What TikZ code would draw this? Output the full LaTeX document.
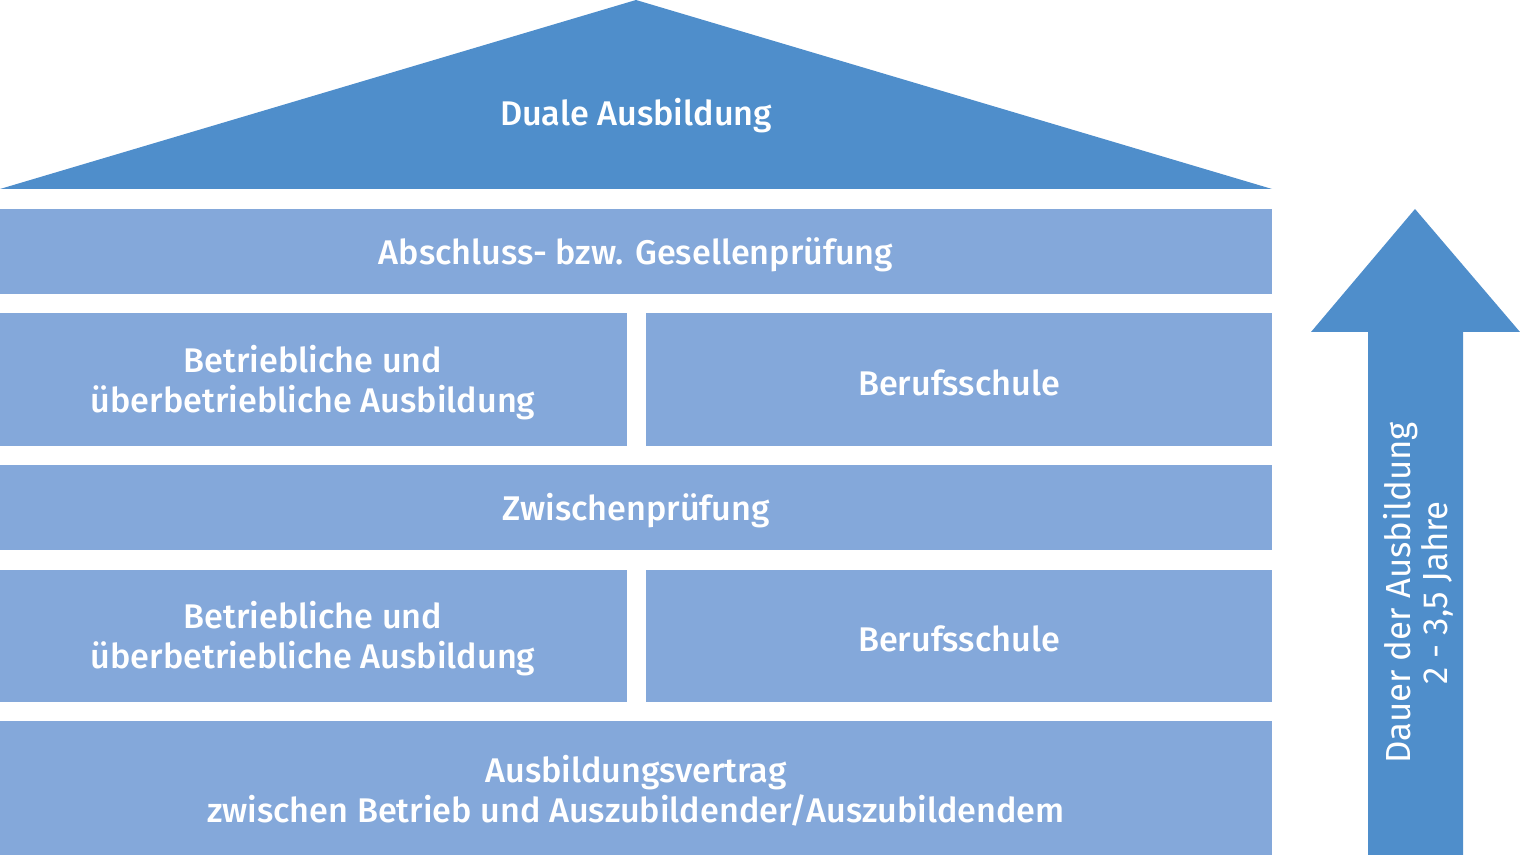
\documentclass[tikz,border=0pt]{standalone}
\usepackage{fontspec}
\setmainfont{Fira Sans}
\newfontfamily\medfont{Fira Sans Medium}
\definecolor{roofblue}{HTML}{4F8ECB}
\definecolor{boxblue}{HTML}{84A8DA}
\begin{document}
\begin{tikzpicture}[x=0.01cm,y=-0.01cm,
  blk/.style={fill=boxblue,draw=none},
  lbl/.style={text=white,font=\medfont\fontsize{9.73}{11.4}\selectfont,align=center},
  alb/.style={text=white,font=\fontsize{9.9}{10.6}\selectfont,align=center,rotate=90}]
\useasboundingbox (0,0) rectangle (1520,855);
\fill[roofblue] (0,189) -- (636,0) -- (1272,189) -- cycle;
\node[lbl] (roof) at (636,116) {Duale Ausbildung};
\fill[blk] (0,209) rectangle (1272,294);
\node[lbl] (r1) at (636,255) {Abschluss- bzw. Gesellenprüfung};
\fill[blk] (0,313) rectangle (627,446);
\node[lbl] (r2a) at (313,383) {Betriebliche und\\überbetriebliche Ausbildung};
\fill[blk] (646,313) rectangle (1272,446);
\node[lbl] (r2b) at (959,383) {Berufsschule};
\fill[blk] (0,465) rectangle (1272,550);
\node[lbl] (r3) at (636,511) {Zwischenprüfung};
\fill[blk] (0,570) rectangle (627,702);
\node[lbl] (r4a) at (313,639) {Betriebliche und\\überbetriebliche Ausbildung};
\fill[blk] (646,570) rectangle (1272,702);
\node[lbl] (r4b) at (959,639) {Berufsschule};
\fill[blk] (0,721) rectangle (1272,855);
\node[lbl] (r5) at (636,791) {Ausbildungsvertrag\\zwischen Betrieb und Auszubildender/Auszubildendem};
\fill[roofblue] (1415,209) -- (1520,332) -- (1463,332) -- (1463,855) -- (1368,855) -- (1368,332) -- (1311,332) -- cycle;
\node[alb] (arr) at (1418,593) {Dauer der Ausbildung\\2 - 3,5 Jahre};
\end{tikzpicture}
\end{document}
